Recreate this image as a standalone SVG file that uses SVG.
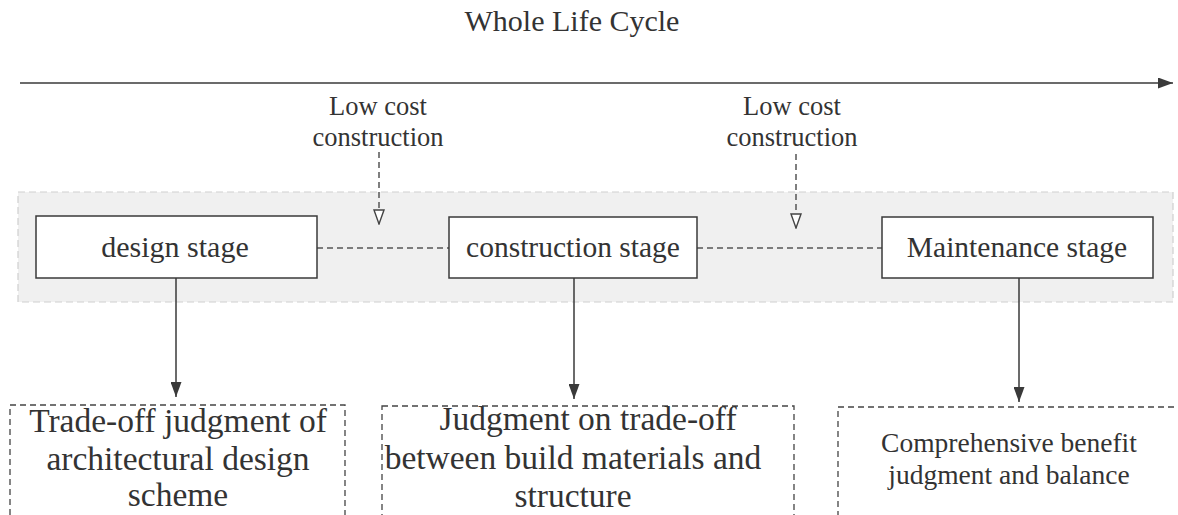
<svg xmlns="http://www.w3.org/2000/svg" width="1178" height="515" viewBox="0 0 1178 515">
<style>
text{font-family:"Liberation Serif","Times New Roman",serif;fill:#333;text-anchor:middle}
.stage{fill:#fff;stroke:#3a3a3a;stroke-width:1.5}
.res{fill:#fff;stroke:#444;stroke-width:1.3;stroke-dasharray:6 4}
.solid{stroke:#3a3a3a;stroke-width:1.5;fill:none}
.dash{stroke:#555;stroke-width:1.5;stroke-dasharray:6 4;fill:none}
</style>
<defs>
<marker id="ah" markerWidth="15" markerHeight="11" refX="15" refY="5.5" orient="auto" markerUnits="userSpaceOnUse"><path d="M0,0 L15,5.5 L0,11 Z" fill="#3a3a3a"/></marker>
<marker id="oh" markerWidth="16" markerHeight="12" refX="15" refY="6" orient="auto" markerUnits="userSpaceOnUse"><path d="M1,1 L15,6 L1,11 Z" fill="#fff" stroke="#444" stroke-width="1.4"/></marker>
</defs>
<rect width="1178" height="515" fill="#fff"/>
<text x="572" y="31" font-size="30">Whole Life Cycle</text>
<rect id="band" x="18" y="192" width="1155" height="110" fill="#f0f0f0" stroke="#cfcfcf" stroke-width="1.2" stroke-dasharray="7 4"/>
<g id="connectors">
<line class="solid" x1="20" y1="83" x2="1173" y2="83" marker-end="url(#ah)"/>
<line class="dash" x1="317" y1="248" x2="449" y2="248"/>
<line class="dash" x1="697" y1="248" x2="882" y2="248"/>
<line class="dash" x1="379" y1="152" x2="379" y2="224" marker-end="url(#oh)"/>
<line class="dash" x1="796" y1="154" x2="796" y2="228" marker-end="url(#oh)"/>
<line class="solid" x1="176" y1="278" x2="176" y2="397" marker-end="url(#ah)"/>
<line class="solid" x1="574" y1="278" x2="574" y2="399" marker-end="url(#ah)"/>
<line class="solid" x1="1019" y1="278" x2="1019" y2="402" marker-end="url(#ah)"/>
</g>
<g id="lowcost1"><text x="378" y="115" font-size="26.5">Low cost</text><text x="378" y="146" font-size="26.5">construction</text></g>
<g id="lowcost2"><text x="792" y="115" font-size="26.5">Low cost</text><text x="792" y="146" font-size="26.5">construction</text></g>
<g id="design"><rect class="stage" x="36" y="216" width="281" height="62"/><text x="175" y="257" font-size="30">design stage</text></g>
<g id="construction"><rect class="stage" x="449" y="217" width="248" height="61"/><text x="573" y="257" font-size="29.5">construction stage</text></g>
<g id="maintenance"><rect class="stage" x="882" y="217" width="271" height="61"/><text x="1017" y="257" font-size="29.5">Maintenance stage</text></g>
<g id="result1"><rect class="res" x="10" y="405" width="335" height="130"/>
<text x="178" y="432" font-size="33.5">Trade-off judgment of</text>
<text x="178" y="470" font-size="33.5">architectural design</text>
<text x="178" y="506" font-size="33.5">scheme</text></g>
<g id="result2"><rect class="res" x="382" y="406" width="412" height="130"/>
<text x="588" y="430" font-size="33.5">Judgment on trade-off</text>
<text x="573" y="469" font-size="33.5">between build materials and</text>
<text x="573" y="507" font-size="33.5">structure</text></g>
<g id="result3"><rect class="res" x="838" y="407" width="360" height="130"/>
<text x="1009" y="452" font-size="27.5">Comprehensive benefit</text>
<text x="1009" y="484" font-size="27.5">judgment and balance</text></g>
</svg>
